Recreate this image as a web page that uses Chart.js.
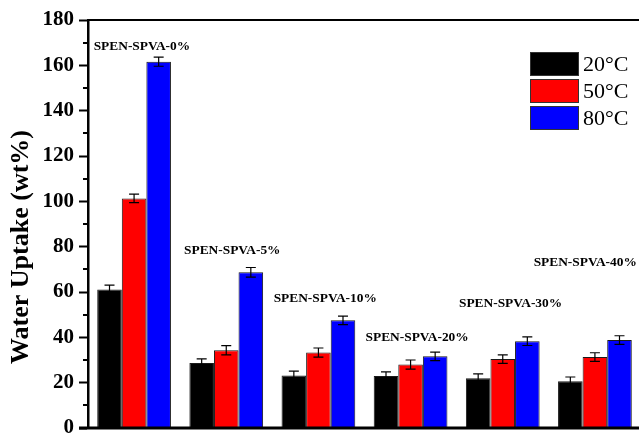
<!DOCTYPE html>
<html>
<head>
<meta charset="utf-8">
<script src="https://cdn.jsdelivr.net/npm/chart.js@4/dist/chart.umd.min.js"></script>
<style>
  html, body { margin: 0; padding: 0; background: #fff; overflow: hidden; }
  #wrap { width: 641px; height: 433px; }
</style>
</head>
<body>
<div id="wrap"><canvas id="c" width="641" height="433"></canvas></div>
<script>
// Membrane compositions (group labels)
const categories = ['SPEN-SPVA-0%', 'SPEN-SPVA-5%', 'SPEN-SPVA-10%', 'SPEN-SPVA-20%', 'SPEN-SPVA-30%', 'SPEN-SPVA-40%'];
// Test temperatures (series)
const temperatures = ['20°C', '50°C', '80°C'];
// Water uptake (wt%) at each temperature
const uptake20 = [61.1, 28.7, 23.2, 22.9, 22.0, 20.6];
const uptake50 = [101.3, 34.3, 33.3, 28.0, 30.4, 31.3];
const uptake80 = [161.6, 68.7, 47.5, 31.6, 38.3, 38.8];
// Standard deviations
const err20 = [1.9, 1.8, 1.9, 1.9, 1.9, 1.9];
const err50 = [1.9, 2.0, 2.0, 2.0, 1.9, 1.9];
const err80 = [2.0, 2.1, 1.9, 1.9, 1.9, 1.9];
// Y axis ticks
const yTicks = [0, 20, 40, 60, 80, 100, 120, 140, 160, 180];

const SERIF = "'Liberation Serif', 'Times New Roman', serif";
const colors = ['#000000', '#ff0000', '#0000ff'];

// Where each composition name sits: value height on the y axis and pixel shift from the group centre
const groupLabelPlacement = {
  y: [168.2, 78.1, 57.1, 39.9, 54.9, 72.8],
  dx: [7.8, 6, 6.8, 6.5, 7.8, -9.7]
};

const series = [uptake20, uptake50, uptake80];
const errors = [err20, err50, err80];

const datasets = series.map((vals, i) => ({
  label: temperatures[i],
  data: vals,
  errors: errors[i],
  backgroundColor: colors[i],
  borderColor: '#1a1a1a',
  borderWidth: 1,
  categoryPercentage: 0.80,
  barPercentage: 1.0
}));

// Error bars with caps on each bar
const errorBars = {
  id: 'errorBars',
  afterDatasetsDraw(chart) {
    const ctx = chart.ctx;
    const y = chart.scales.y;
    ctx.save();
    ctx.strokeStyle = '#000';
    ctx.lineWidth = 1.2;
    chart.data.datasets.forEach((ds, di) => {
      const meta = chart.getDatasetMeta(di);
      meta.data.forEach((bar, i) => {
        const v = ds.data[i], e = ds.errors[i];
        const yt = y.getPixelForValue(v + e);
        const yb = y.getPixelForValue(v - e);
        const cap = 5;
        ctx.beginPath();
        ctx.moveTo(bar.x, yt); ctx.lineTo(bar.x, yb);
        ctx.moveTo(bar.x - cap, yt); ctx.lineTo(bar.x + cap, yt);
        ctx.moveTo(bar.x - cap, yb); ctx.lineTo(bar.x + cap, yb);
        ctx.stroke();
      });
    });
    ctx.restore();
  }
};

// Frame, minor ticks, axis title, group names and legend
const decorations = {
  id: 'decorations',
  afterDraw(chart) {
    const ctx = chart.ctx;
    const a = chart.chartArea;
    const x = chart.scales.x, y = chart.scales.y;
    ctx.save();
    ctx.strokeStyle = '#000';
    // top frame line
    ctx.lineWidth = 2;
    ctx.beginPath();
    ctx.moveTo(a.left, a.top); ctx.lineTo(a.right, a.top);
    ctx.stroke();
    // bottom axis line
    ctx.lineWidth = 3;
    ctx.beginPath();
    ctx.moveTo(a.left - 9, a.bottom); ctx.lineTo(a.right, a.bottom);
    ctx.stroke();
    // minor ticks
    ctx.lineWidth = 2;
    for (let i = 0; i < yTicks.length - 1; i++) {
      const mv = (yTicks[i] + yTicks[i + 1]) / 2;
      const py = Math.round(y.getPixelForValue(mv));
      ctx.beginPath();
      ctx.moveTo(a.left - 5, py); ctx.lineTo(a.left, py);
      ctx.stroke();
    }
    // y axis title
    ctx.fillStyle = '#000';
    ctx.font = 'bold 26px ' + SERIF;
    ctx.textAlign = 'center';
    ctx.textBaseline = 'middle';
    ctx.save();
    ctx.translate(21, 247);
    ctx.rotate(-Math.PI / 2);
    ctx.fillText('Water Uptake (wt%)', 0, 0);
    ctx.restore();
    // composition names over each group
    ctx.font = 'bold 13.4px ' + SERIF;
    categories.forEach((name, i) => {
      const px = x.getPixelForValue(i) + groupLabelPlacement.dx[i];
      const py = y.getPixelForValue(groupLabelPlacement.y[i]);
      ctx.fillText(name, px, py);
    });
    // legend
    const lx = 530, ly = 52, bw = 49, bh = 24, step = 27;
    ctx.font = '22px ' + SERIF;
    ctx.textAlign = 'left';
    chart.data.datasets.forEach((ds, i) => {
      const by = ly + i * step;
      ctx.fillStyle = ds.backgroundColor;
      ctx.fillRect(lx, by, bw, bh);
      ctx.lineWidth = 1;
      ctx.strokeStyle = '#333';
      ctx.strokeRect(lx + 0.5, by + 0.5, bw - 1, bh - 1);
      ctx.fillStyle = '#000';
      ctx.fillText(ds.label, lx + bw + 4, by + bh / 2 + 1);
    });
    ctx.restore();
  }
};

new Chart(document.getElementById('c'), {
  type: 'bar',
  data: { labels: categories, datasets },
  options: {
    responsive: false,
    devicePixelRatio: 1,
    animation: false,
    layout: { autoPadding: false, padding: { top: 20, right: 0, bottom: 5, left: 0 } },
    plugins: { legend: { display: false }, tooltip: { enabled: false } },
    scales: {
      x: {
        display: false
      },
      y: {
        min: 0,
        max: 180,
        afterBuildTicks(s) { s.ticks = yTicks.map(v => ({ value: v })); },
        ticks: {
          color: '#000',
          padding: 5,
          font: { family: SERIF, size: 21, weight: 'bold' }
        },
        grid: {
          drawOnChartArea: false,
          drawTicks: true,
          tickLength: 9,
          tickWidth: 2,
          tickColor: '#000'
        },
        border: { display: true, color: '#000', width: 2.5 },
        afterFit(s) {
          s.width = 88;
          s.paddingTop = 0;
          s.paddingBottom = 0;
        }
      }
    }
  },
  plugins: [errorBars, decorations]
});
</script>
</body>
</html>
